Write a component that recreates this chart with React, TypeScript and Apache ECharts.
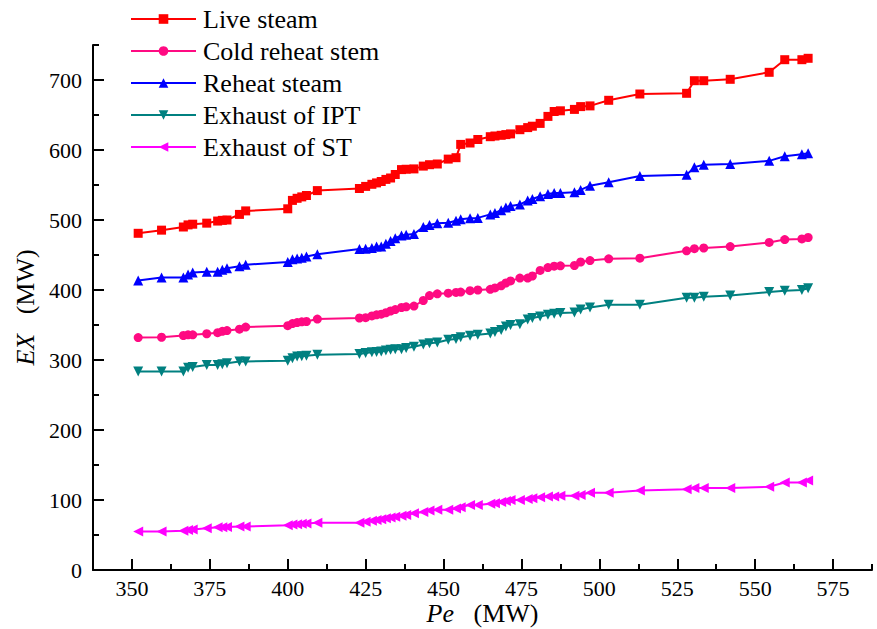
import React, { useEffect, useRef } from "react";
import * as echarts from "echarts";

const pe = [352, 359.5, 366.5, 368, 369.5, 374, 377.5, 379, 380.5, 384.5, 386.5, 400, 401.5, 403, 404.5, 406, 409.5, 423, 425, 427, 428.5, 430, 431.5, 433, 434.5, 436.5, 438, 440.5, 443.5, 445.5, 448, 451.5, 454, 455.5, 458.5, 461, 465, 466.5, 468.5, 470, 471.5, 474.5, 477, 478.5, 481, 483.5, 485.5, 487.5, 492, 494, 497, 503, 513, 528, 530.5, 533.5, 542, 554.5, 559.5, 565, 567];

const liveSteam = [481, 485.5, 490, 493, 494, 495.5, 498.5, 499.5, 500, 508, 513, 516, 528, 531, 533, 535, 542, 545, 548, 551, 553, 555, 558, 560, 565, 572, 572.5, 573, 577, 579, 580, 587, 589, 608, 610, 615, 619, 620, 621, 622, 623, 629, 632, 634, 638, 648, 655, 656, 658, 662, 663, 671, 680, 681, 699, 699, 701, 711, 729, 729, 731];

const coldReheat = [332, 332.5, 335, 336, 336, 337.5, 339, 341, 342, 344, 347, 349, 352, 353.5, 354.5, 355, 358.5, 360, 360.5, 363, 364.5, 365.5, 367.5, 370, 372, 375, 376, 377, 385, 392, 394.5, 395.5, 396.5, 397, 399, 400, 401, 403, 406, 410, 413, 417, 417, 420, 428, 432, 434, 434.5, 435, 440, 442, 444.5, 445.5, 456, 459, 460, 462, 468, 472, 473, 475];

const reheatSteam = [413.5, 418, 418, 422, 425, 426, 426, 429, 431, 434, 436, 440, 444, 445, 446, 448, 451, 458.5, 459, 460, 462, 462, 466, 470, 474, 478, 479, 480, 490, 493, 495.5, 496, 499, 501, 502.5, 503, 508, 510, 514, 518, 520, 522, 528, 530, 534, 537, 538.5, 538.5, 539.5, 543, 549, 554, 563, 564.5, 575.5, 579, 580, 584.5, 591, 594, 595.5];

const exhaustIPT = [283.5, 283.5, 283.5, 289, 290, 293, 293, 294, 295.5, 298, 298, 299, 302.5, 305, 305.5, 306, 307.5, 308.5, 310, 311, 311.5, 312, 313.5, 314.5, 315.5, 315.5, 317, 319, 322, 324, 325, 329, 330, 332.5, 334.5, 336, 338, 340, 343, 348, 350, 351, 358, 360, 362, 364.5, 366, 367, 368, 372, 375, 379, 379, 389, 389, 390.5, 392, 397, 399, 400, 402.5];

const exhaustST = [55, 55, 56, 57, 58, 59.5, 61, 61, 61.5, 62, 62, 64, 65, 65.5, 66, 66.5, 67.5, 67.5, 69, 70.5, 71.5, 72.5, 74, 75, 76, 77.5, 78.5, 81, 83, 85, 86, 86, 88, 89.5, 93, 93, 94.5, 95.5, 97, 98.5, 100, 100, 101.5, 102.5, 104, 105, 105, 106, 106, 107, 110.5, 110.5, 113.5, 115.5, 117, 117, 117, 119, 125, 125, 128];

const xMajor = [350, 375, 400, 425, 450, 475, 500, 525, 550, 575];
const xMinor = [362.5, 387.5, 412.5, 437.5, 462.5, 487.5, 512.5, 537.5, 562.5, 587.5];
const yMajor = [0, 100, 200, 300, 400, 500, 600, 700];
const yMinor = [50, 150, 250, 350, 450, 550, 650, 750];

const seriesNames = ["Live steam", "Cold reheat stem", "Reheat steam", "Exhaust of IPT", "Exhaust of ST"];

const FONT = "Liberation Serif";

export default function App() {
  const ref = useRef<HTMLDivElement>(null);
  useEffect(() => {
    const chart = echarts.init(ref.current!, null, { renderer: "svg" });
    const pair = (ys: number[]) => pe.map((x, i) => [x, ys[i]]);
    const mk = (name: string, ys: number[], color: string, symbol: string, size: number, rotate = 0) => ({
      name,
      type: "line",
      data: pair(ys),
      xAxisIndex: 0,
      yAxisIndex: 0,
      symbol,
      symbolSize: size,
      symbolRotate: rotate,
      showAllSymbol: true,
      itemStyle: { color },
      lineStyle: { color, width: 2 },
      emphasis: { disabled: true },
    });
    const axisLine = { show: true, onZero: false, lineStyle: { color: "#000", width: 2 } };
    chart.setOption({
      animation: false,
      backgroundColor: "#fff",
      textStyle: { fontFamily: FONT },
      grid: { left: 93, top: 45, width: 779, height: 525, containLabel: false, outerBoundsMode: "none" },
      legend: {
        orient: "vertical",
        left: 130,
        top: 4,
        padding: 0,
        itemWidth: 65,
        itemHeight: 12,
        itemGap: 2,
        data: seriesNames,
        textStyle: { fontFamily: FONT, fontSize: 26, color: "#000", lineHeight: 30, padding: [0, 0, 0, 2] },
      },
      xAxis: [
        {
          type: "value",
          min: 337.5,
          max: 587.5,
          position: "bottom",
          axisLine,
          splitLine: { show: false },
          axisTick: { show: true, inside: true, length: 11, customValues: xMajor, lineStyle: { color: "#000", width: 2 } },
          axisLabel: { customValues: xMajor, fontFamily: FONT, fontSize: 22, lineHeight: 22, color: "#000", margin: 7 },
          name: "{i|Pe}   (MW)",
          nameLocation: "middle",
          nameGap: 29,
          nameMoveOverlap: false,
          nameTextStyle: {
            fontFamily: FONT,
            fontSize: 26,
            color: "#000",
            lineHeight: 28,
            rich: { i: { fontFamily: FONT, fontSize: 26, fontStyle: "italic", color: "#000", lineHeight: 28 } },
          },
        },
        {
          type: "value",
          min: 337.5,
          max: 587.5,
          position: "bottom",
          axisLine: { show: false },
          splitLine: { show: false },
          axisTick: { show: true, inside: true, length: 6, customValues: xMinor, lineStyle: { color: "#000", width: 2 } },
          axisLabel: { show: false },
        },
      ],
      yAxis: [
        {
          type: "value",
          min: 0,
          max: 750,
          position: "left",
          axisLine,
          splitLine: { show: false },
          axisTick: { show: true, inside: true, length: 11, customValues: yMajor, lineStyle: { color: "#000", width: 2 } },
          axisLabel: { customValues: yMajor, fontFamily: FONT, fontSize: 22, color: "#000", margin: 11 },
          name: "{i|EX}   (MW)",
          nameLocation: "middle",
          nameGap: 55,
          nameRotate: 90,
          nameTextStyle: {
            fontFamily: FONT,
            fontSize: 26,
            color: "#000",
            rich: { i: { fontFamily: FONT, fontSize: 26, fontStyle: "italic", color: "#000" } },
          },
        },
        {
          type: "value",
          min: 0,
          max: 750,
          position: "left",
          axisLine: { show: false },
          splitLine: { show: false },
          axisTick: { show: true, inside: true, length: 6, customValues: yMinor, lineStyle: { color: "#000", width: 2 } },
          axisLabel: { show: false },
        },
      ],
      series: [
        mk("Live steam", liveSteam, "#FF0000", "rect", 9),
        mk("Cold reheat stem", coldReheat, "#FF0A82", "circle", 9),
        mk("Reheat steam", reheatSteam, "#0000FF", "triangle", 10),
        mk("Exhaust of IPT", exhaustIPT, "#008080", "triangle", 10, 180),
        mk("Exhaust of ST", exhaustST, "#FF00FF", "triangle", 10, 90),
      ],
    });
    return () => chart.dispose();
  }, []);
  return <div ref={ref} style={{ position: "absolute", left: 0, top: 0, width: 877, height: 629 }} />;
}
